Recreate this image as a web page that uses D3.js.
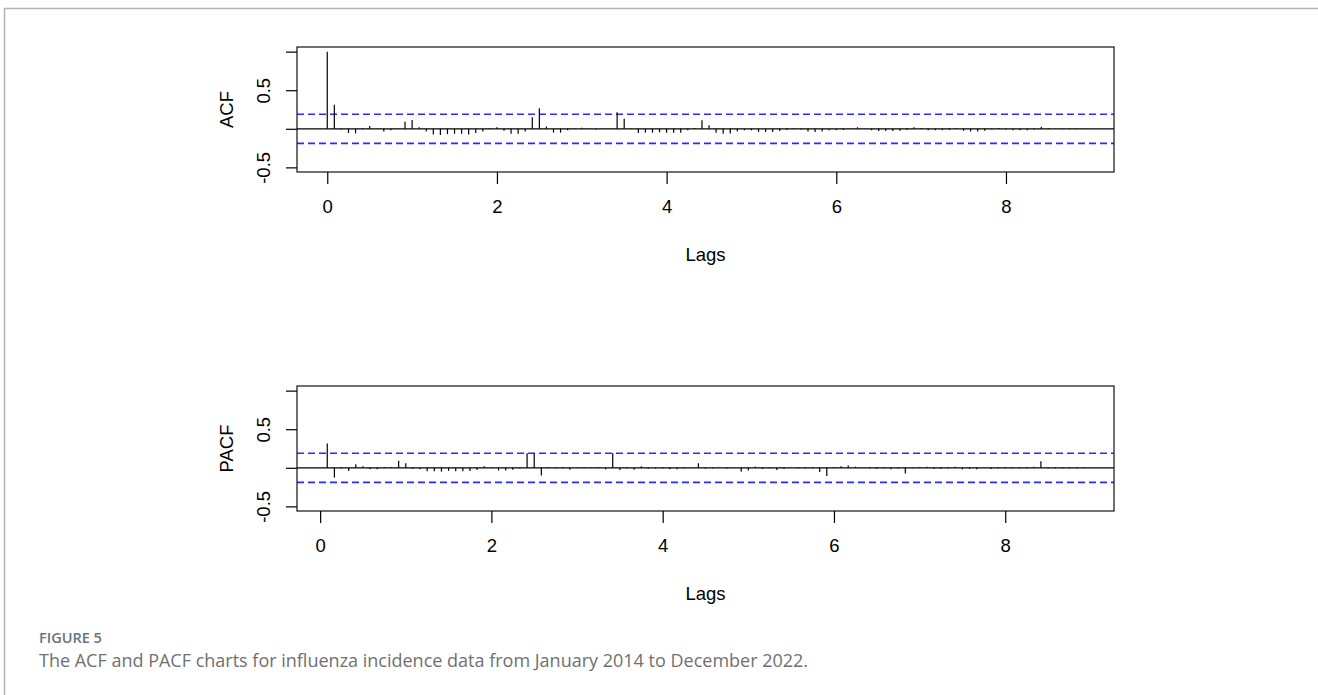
<!DOCTYPE html>
<html>
<head>
<meta charset="utf-8">
<script src="https://cdn.jsdelivr.net/npm/d3@7"></script>
<style>
    body { margin: 0; background: #fff; }
    svg { display: block; }
    .axis text { font-family: 'Liberation Sans', Arial, sans-serif; font-size: 18.5px; fill: #000; }
    .axis line { stroke: #000; }
</style>
</head>
<body>
<div id="chart"></div>
<script>
// lag index (in years, monthly steps)
const acfLags = d3.range(0, 108).map(k => k / 12);
const pacfLags = d3.range(1, 108).map(k => k / 12);

const acfValues = [
    1.0, 0.31, -0.01, -0.055, -0.06, 0.01, 0.035, 0.003, -0.035, -0.02, 0.005, 0.09,
    0.115, 0.02, -0.035, -0.075, -0.08, -0.07, -0.065, -0.065, -0.075, -0.055, -0.035, 0.01,
    0.02, -0.025, -0.065, -0.065, -0.035, 0.15, 0.265, 0.03, -0.05, -0.05, -0.02, 0.005,
    0.015, 0.003, -0.01, 0.003, 0.005, 0.215, 0.13, 0.005, -0.055, -0.05, -0.05, -0.045,
    -0.05, -0.05, -0.05, -0.02, 0.01, 0.11, 0.045, -0.05, -0.065, -0.06, -0.035, -0.02,
    -0.02, -0.04, -0.04, -0.04, -0.03, -0.015, -0.005, -0.01, -0.035, -0.04, -0.035, -0.02,
    -0.02, -0.015, 0.003, 0.02, 0.003, -0.02, -0.03, -0.03, -0.03, -0.025, -0.015, 0.02,
    0.01, -0.02, -0.02, -0.02, -0.015, 0.01, -0.025, -0.035, -0.035, -0.025, -0.01, 0.01,
    -0.01, -0.02, -0.02, -0.02, -0.01, 0.025, 0.01, 0.003, -0.005, -0.005, -0.005, -0.003
];

const pacfValues = [
    0.315, -0.125, -0.01, -0.04, 0.045, 0.02, -0.02, -0.02, 0.01, 0.01, 0.09,
    0.06, -0.015, -0.02, -0.045, -0.045, -0.05, -0.04, -0.045, -0.045, -0.04, -0.03, 0.02,
    -0.005, -0.035, -0.035, -0.025, -0.01, 0.19, 0.19, -0.1, 0.01, -0.01, -0.01, -0.025,
    0.003, 0.01, 0.003, 0.01, -0.02, 0.19, -0.03, -0.01, -0.025, 0.02, -0.01, -0.01,
    -0.01, -0.02, -0.02, -0.01, 0.003, 0.06, -0.01, -0.01, 0.005, -0.01, 0.005, -0.05,
    -0.035, 0.015, -0.015, -0.01, -0.03, -0.015, 0.003, -0.01, -0.01, -0.01, -0.055, -0.105,
    0.01, 0.02, 0.03, 0.015, 0.003, -0.01, -0.015, -0.01, -0.02, -0.01, -0.075, -0.005,
    0.01, 0.015, -0.015, -0.015, -0.01, 0.015, -0.02, -0.015, -0.02, 0.005, -0.015, -0.01,
    -0.01, -0.01, -0.01, -0.01, 0.015, 0.085, -0.01, -0.01, -0.01, -0.01, -0.01, -0.005
];

const ciBound = 0.189;
const xTicks = [0, 2, 4, 6, 8];
const yTicks = [-0.5, 0, 0.5, 1];
const yTickLabels = ['-0.5', '', '0.5', ''];

const W = 1318, H = 695;
const box = { left: 297, right: 1114, height: 125 };

const svg = d3.select('#chart').append('svg')
    .attr('width', W)
    .attr('height', H);

// figure frame (top + left edges)
svg.append('path')
    .attr('d', `M4.5,${H} V8.5 H${W}`)
    .attr('fill', 'none')
    .attr('stroke', '#b4b4b4')
    .attr('stroke-width', 1.5);

function drawPanel(top, lags, values, yLabel) {
    const bottom = top + box.height;
    const lo = d3.min(lags), hi = d3.max(lags);
    const pad = (hi - lo) * 0.04;

    const x = d3.scaleLinear()
        .domain([lo - pad, hi + pad])
        .range([box.left, box.right]);

    const y = d3.scaleLinear()
        .domain([-0.56, 1.06])
        .range([bottom, top]);

    const g = svg.append('g');

    // confidence bounds
    g.selectAll('line.ci')
        .data([ciBound, -ciBound])
        .join('line')
        .attr('class', 'ci')
        .attr('x1', box.left)
        .attr('x2', box.right)
        .attr('y1', d => y(d))
        .attr('y2', d => y(d))
        .attr('stroke', '#2b2bff')
        .attr('stroke-width', 1.6)
        .attr('stroke-dasharray', '7,4');

    // zero line
    g.append('line')
        .attr('x1', box.left)
        .attr('x2', box.right)
        .attr('y1', y(0))
        .attr('y2', y(0))
        .attr('stroke', '#000')
        .attr('stroke-width', 1.2);

    // spikes
    g.selectAll('line.spike')
        .data(lags.map((l, i) => ({ lag: l, v: values[i] })))
        .join('line')
        .attr('class', 'spike')
        .attr('x1', d => x(d.lag))
        .attr('x2', d => x(d.lag))
        .attr('y1', y(0))
        .attr('y2', d => y(d.v))
        .attr('stroke', '#000')
        .attr('stroke-width', 1.2);

    // box
    g.append('rect')
        .attr('x', box.left)
        .attr('y', top)
        .attr('width', box.right - box.left)
        .attr('height', box.height)
        .attr('fill', 'none')
        .attr('stroke', '#111')
        .attr('stroke-width', 1.2);

    // x axis
    const xa = g.append('g')
        .attr('class', 'axis')
        .attr('transform', `translate(0,${bottom})`)
        .call(d3.axisBottom(x).tickValues(xTicks).tickSize(12).tickPadding(16).tickFormat(d3.format('d')));
    xa.select('.domain').remove();
    xa.selectAll('line').attr('stroke-width', 1.2);

    // y axis, labels parallel to axis
    const ya = g.append('g')
        .attr('class', 'axis')
        .attr('transform', `translate(${box.left},0)`)
        .call(d3.axisLeft(y).tickValues(yTicks).tickSize(11).tickFormat((d, i) => yTickLabels[i]));
    ya.select('.domain').remove();
    ya.selectAll('line').attr('stroke-width', 1.2);
    ya.selectAll('text')
        .attr('x', 0)
        .attr('y', -27)
        .attr('dy', 0)
        .attr('text-anchor', 'middle')
        .attr('transform', 'rotate(-90)');

    g.append('text')
        .attr('class', 'axis')
        .attr('x', (box.left + box.right) / 2)
        .attr('y', bottom + 89)
        .attr('text-anchor', 'middle')
        .style('font-family', "'Liberation Sans', Arial, sans-serif")
        .style('font-size', '18.5px')
        .text('Lags');

    g.append('text')
        .attr('transform', `translate(233,${(top + bottom) / 2}) rotate(-90)`)
        .attr('text-anchor', 'middle')
        .style('font-family', "'Liberation Sans', Arial, sans-serif")
        .style('font-size', '18.5px')
        .text(yLabel);
}

drawPanel(47, acfLags, acfValues, 'ACF');
drawPanel(386, pacfLags, pacfValues, 'PACF');

// caption
svg.append('text')
    .attr('x', 39)
    .attr('y', 643)
    .style('font-family', "'Open Sans', sans-serif")
    .style('font-size', '14.5px')
    .style('font-weight', 600)
    .attr('fill', '#66747c')
    .text('FIGURE 5');

svg.append('text')
    .attr('x', 39)
    .attr('y', 667)
    .style('font-family', "'Open Sans', sans-serif")
    .style('font-size', '18px')
    .attr('fill', '#707070')
    .text('The ACF and PACF charts for influenza incidence data from January 2014 to December 2022.');
</script>
</body>
</html>
